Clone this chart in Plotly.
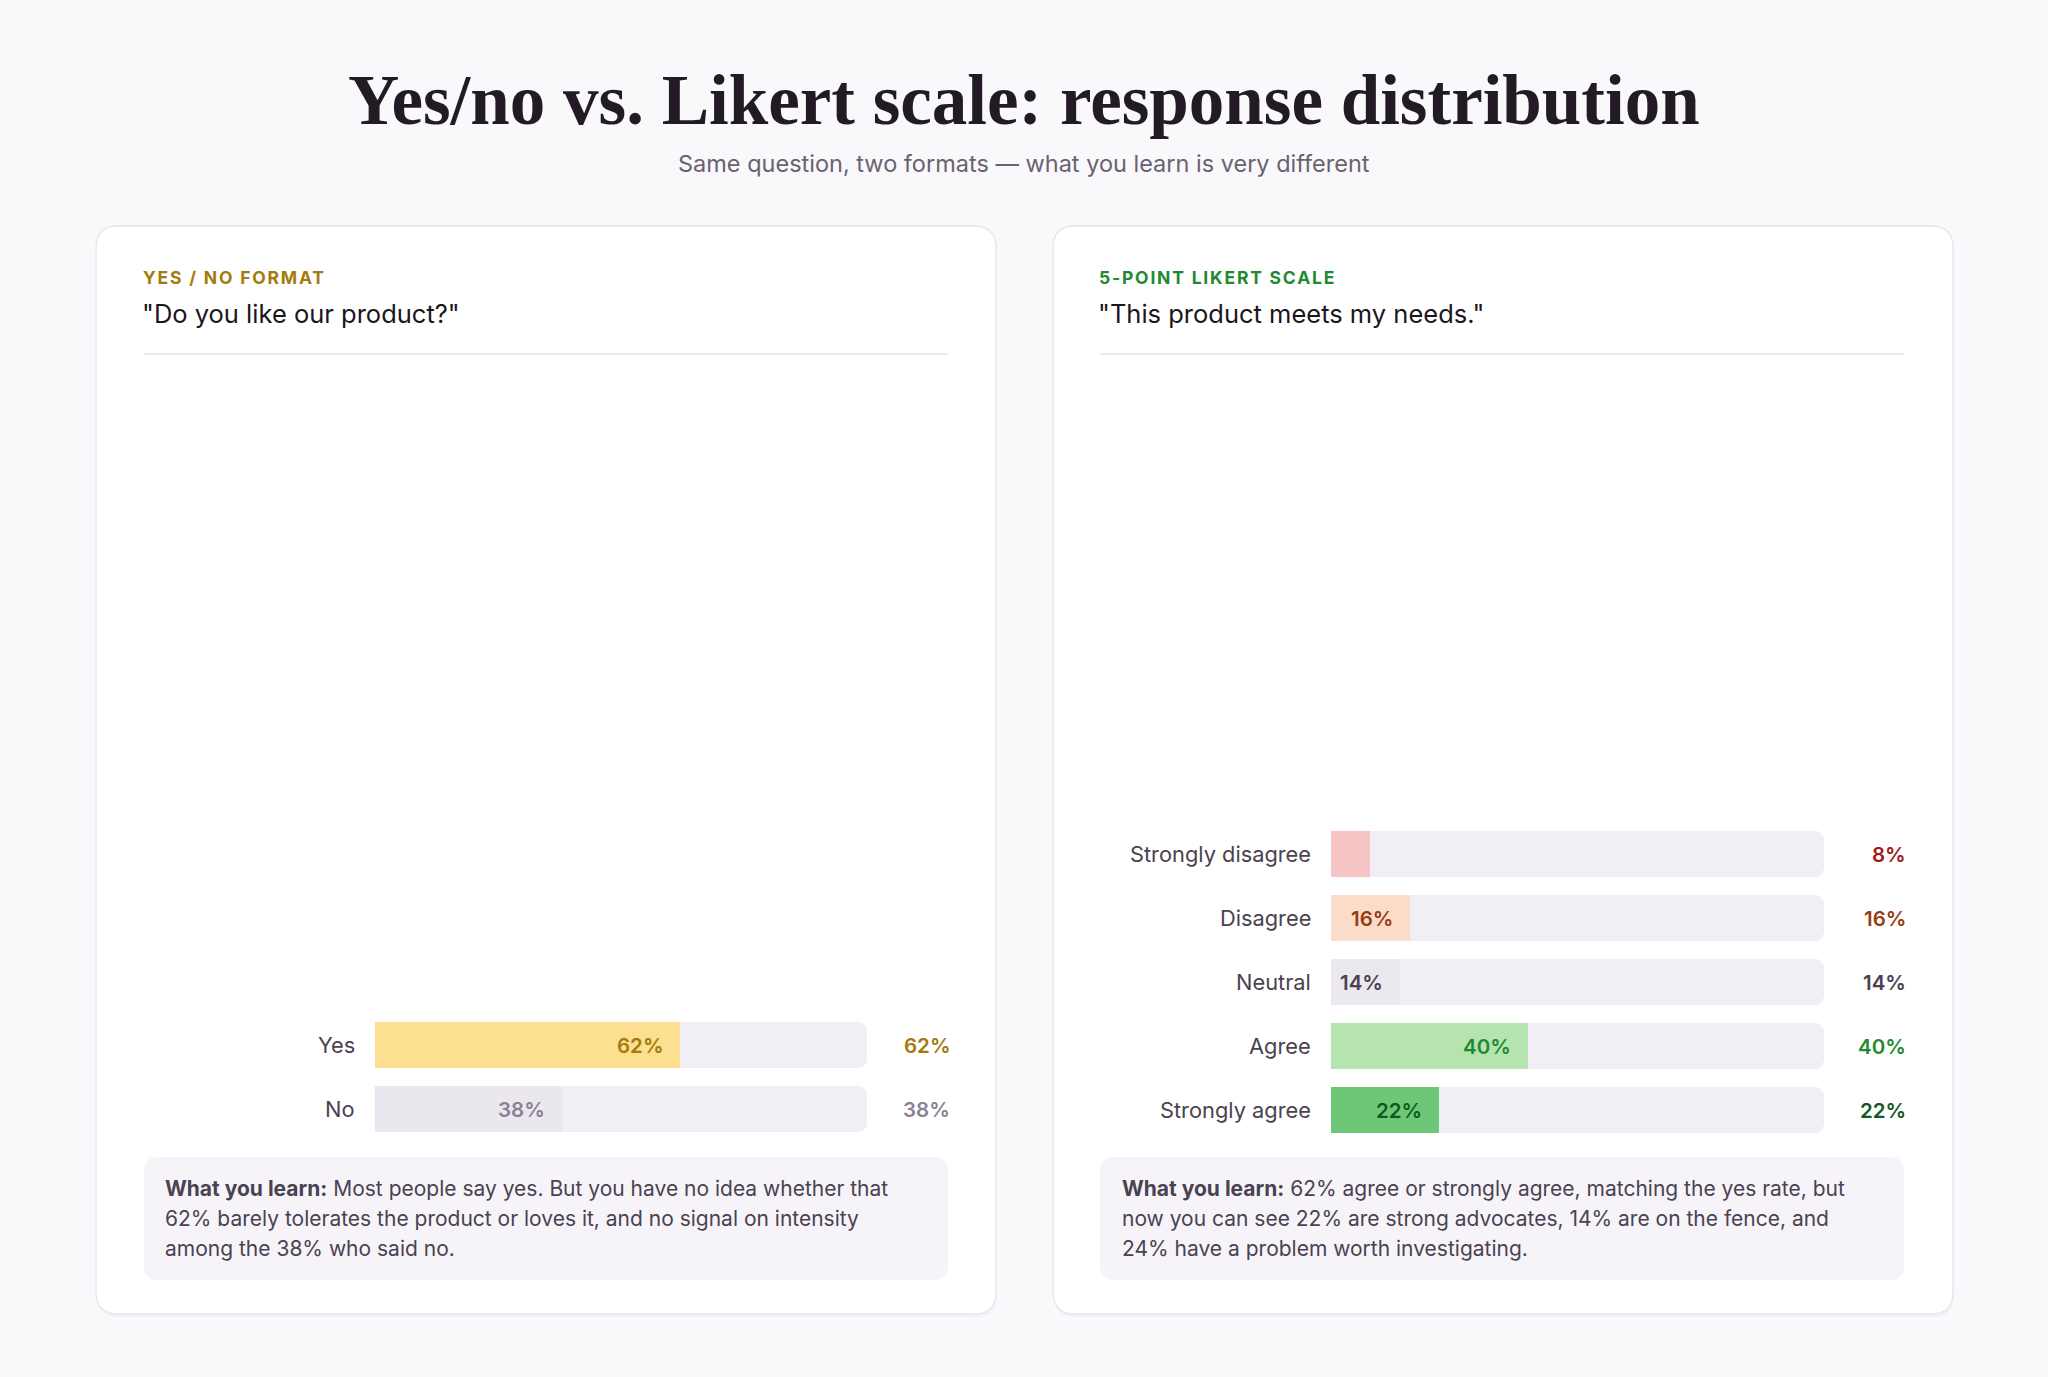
import plotly.graph_objects as go

W, H = 2048, 1377

# ---------------- data ----------------
yn_categories = ["Yes", "No"]
yn_values = [62, 38]
yn_fill_colors = ["#fddf90", "#ebe7ee"]
yn_text_colors = ["#a27b0c", "#8b8192"]

lk_categories = ["Strongly disagree", "Disagree", "Neutral", "Agree", "Strongly agree"]
lk_values = [8, 16, 14, 40, 22]
lk_fill_colors = ["#f5c4c4", "#fbdcc8", "#ece8ef", "#b6e4b0", "#6cc777"]
lk_text_colors = ["#9b1b1b", "#983c12", "#4a4250", "#1f8a30", "#11591f"]

title_text = "Yes/no vs. Likert scale: response distribution"
subtitle_text = "Same question, two formats \u2014 what you learn is very different"

left_kicker = "YES / NO FORMAT"
left_question = "\"Do you like our product?\""
right_kicker = "5-POINT LIKERT SCALE"
right_question = "\"This product meets my needs.\""

left_note = [
    "<b>What you learn:</b> Most people say yes. But you have no idea whether that",
    "62% barely tolerates the product or loves it, and no signal on intensity",
    "among the 38% who said no.",
]
right_note = [
    "<b>What you learn:</b> 62% agree or strongly agree, matching the yes rate, but",
    "now you can see 22% are strong advocates, 14% are on the fence, and",
    "24% have a problem worth investigating.",
]

# ---------------- helpers ----------------
def px(x):
    return x / W

def py(y):
    return 1 - y / H

def rrect(x0, y0, x1, y1, r):
    pts = [
        f"M {px(x0 + r)},{py(y0)}",
        f"L {px(x1 - r)},{py(y0)}",
        f"Q {px(x1)},{py(y0)} {px(x1)},{py(y0 + r)}",
        f"L {px(x1)},{py(y1 - r)}",
        f"Q {px(x1)},{py(y1)} {px(x1 - r)},{py(y1)}",
        f"L {px(x0 + r)},{py(y1)}",
        f"Q {px(x0)},{py(y1)} {px(x0)},{py(y1 - r)}",
        f"L {px(x0)},{py(y0 + r)}",
        f"Q {px(x0)},{py(y0)} {px(x0 + r)},{py(y0)}",
        "Z",
    ]
    return " ".join(pts)

SANS = "Inter, 'Noto Sans', sans-serif"
SERIF = "'Liberation Serif', 'DejaVu Serif', serif"

fig = go.Figure()

ROW = 64
BAR_W = 46 / ROW

fig.add_trace(go.Bar(
    x=[100] * len(yn_categories), y=yn_categories, orientation="h",
    marker=dict(color="#f1eff5", cornerradius=9, line=dict(width=0)),
    width=BAR_W, hoverinfo="skip", xaxis="x", yaxis="y", showlegend=False,
))
fig.add_trace(go.Bar(
    x=yn_values, y=yn_categories, orientation="h",
    marker=dict(color=yn_fill_colors, cornerradius=9, line=dict(width=0)),
    width=BAR_W, xaxis="x", yaxis="y", showlegend=False,
))
fig.add_trace(go.Bar(
    x=[100] * len(lk_categories), y=lk_categories, orientation="h",
    marker=dict(color="#f1eff5", cornerradius=9, line=dict(width=0)),
    width=BAR_W, hoverinfo="skip", xaxis="x2", yaxis="y2", showlegend=False,
))
fig.add_trace(go.Bar(
    x=lk_values, y=lk_categories, orientation="h",
    marker=dict(color=lk_fill_colors, cornerradius=9, line=dict(width=0)),
    width=BAR_W, xaxis="x2", yaxis="y2", showlegend=False,
))

L_TRACK = (375, 867)
R_TRACK = (1331, 1824)
L_ROWS_TOP = 1013
R_ROWS_TOP = 822

axis_common = dict(showgrid=False, zeroline=False, showticklabels=False,
                   showline=False, ticks="", fixedrange=True)

fig.update_layout(
    width=W, height=H,
    margin=dict(l=0, r=0, t=0, b=0),
    paper_bgcolor="#f9f8fb",
    plot_bgcolor="rgba(0,0,0,0)",
    barmode="overlay",
    bargap=0,
    xaxis=dict(domain=[px(L_TRACK[0]), px(L_TRACK[1])], range=[0, 100], **axis_common),
    yaxis=dict(domain=[py(L_ROWS_TOP + ROW * len(yn_categories)), py(L_ROWS_TOP)],
               range=[len(yn_categories) - 0.5, -0.5], type="category",
               categoryorder="array", categoryarray=yn_categories, **axis_common),
    xaxis2=dict(domain=[px(R_TRACK[0]), px(R_TRACK[1])], range=[0, 100], anchor="y2", **axis_common),
    yaxis2=dict(domain=[py(R_ROWS_TOP + ROW * len(lk_categories)), py(R_ROWS_TOP)],
                range=[len(lk_categories) - 0.5, -0.5], type="category", anchor="x2",
                categoryorder="array", categoryarray=lk_categories, **axis_common),
    showlegend=False,
)

shapes = []
for (x0, x1) in [(96, 996), (1053, 1953)]:
    shapes.append(dict(type="path", path=rrect(x0 + 1, 229, x1 + 1, 1317, 22),
                       xref="paper", yref="paper", fillcolor="rgba(60,40,80,0.035)",
                       line=dict(width=0), layer="below"))
    shapes.append(dict(type="path", path=rrect(x0, 226, x1, 1314, 22),
                       xref="paper", yref="paper", fillcolor="#ffffff",
                       line=dict(color="#e8e5ec", width=1.3), layer="below"))
for (x0, x1) in [(144, 948), (1100, 1904)]:
    shapes.append(dict(type="line", x0=px(x0), x1=px(x1), y0=py(354), y1=py(354),
                       xref="paper", yref="paper", line=dict(color="#ebe8ee", width=2)))
for (x0, x1) in [(144, 948), (1100, 1904)]:
    shapes.append(dict(type="path", path=rrect(x0, 1157, x1, 1280, 14),
                       xref="paper", yref="paper", fillcolor="#f6f4f9",
                       line=dict(width=0), layer="below"))
fig.update_layout(shapes=shapes)

ann = []
ann.append(dict(text=f"<b>{title_text}</b>", x=0.5, y=py(100), xref="paper", yref="paper",
                xanchor="center", yanchor="middle", showarrow=False,
                font=dict(family=SERIF, size=71, color="#221b26")))
ann.append(dict(text=subtitle_text, x=0.5, y=py(163), xref="paper", yref="paper",
                xanchor="center", yanchor="middle", showarrow=False,
                font=dict(family=SANS, size=23.5, color="#6a6271")))

for x0, kicker, kcolor, question in [(141, left_kicker, "#a27b0c", left_question),
                                     (1097, right_kicker, "#1f8a30", right_question)]:
    ann.append(dict(text=f"<span style='letter-spacing:1.8px'><b>{kicker}</b></span>",
                    x=px(x0), y=py(277), xref="paper", yref="paper",
                    xanchor="left", yanchor="middle", showarrow=False,
                    font=dict(family=SANS, size=17.5, color=kcolor)))
    ann.append(dict(text=question, x=px(x0 - 1), y=py(313), xref="paper", yref="paper",
                    xanchor="left", yanchor="middle", showarrow=False,
                    font=dict(family=SANS, size=25.5, color="#1c1520")))

def bar_labels(cats, vals, fills_txt, xa, ya, label_x, value_x):
    out = []
    for c, v, tc in zip(cats, vals, fills_txt):
        out.append(dict(text=c, x=px(label_x), y=c, xref="paper", yref=ya,
                        xanchor="right", yanchor="middle", showarrow=False,
                        font=dict(family=SANS, size=21.8, color="#4a4250")))
        out.append(dict(text=f"{v}%", x=px(value_x), y=c, xref="paper", yref=ya,
                        xanchor="right", yanchor="middle", showarrow=False,
                        font=dict(family=SANS, size=20.5, color=tc, weight=600)))
        if v >= 10:
            out.append(dict(text=f"{v}%", x=v, y=c, xref=xa, yref=ya,
                            xanchor="right", yanchor="middle", showarrow=False,
                            xshift=-15,
                            font=dict(family=SANS, size=20.5, color=tc, weight=600)))
    return out

ann += bar_labels(yn_categories, yn_values, yn_text_colors, "x", "y", 357, 952)
ann += bar_labels(lk_categories, lk_values, lk_text_colors, "x2", "y2", 1313, 1908)

for x0, lines in [(163, left_note), (1120, right_note)]:
    for i, line in enumerate(lines):
        ann.append(dict(text=line, x=px(x0), y=py(1188 + 30 * i), xref="paper", yref="paper",
                        xanchor="left", yanchor="middle", showarrow=False,
                        font=dict(family=SANS, size=21, color="#4a4250")))

fig.update_layout(annotations=ann)

fig.write_html("out.html")
